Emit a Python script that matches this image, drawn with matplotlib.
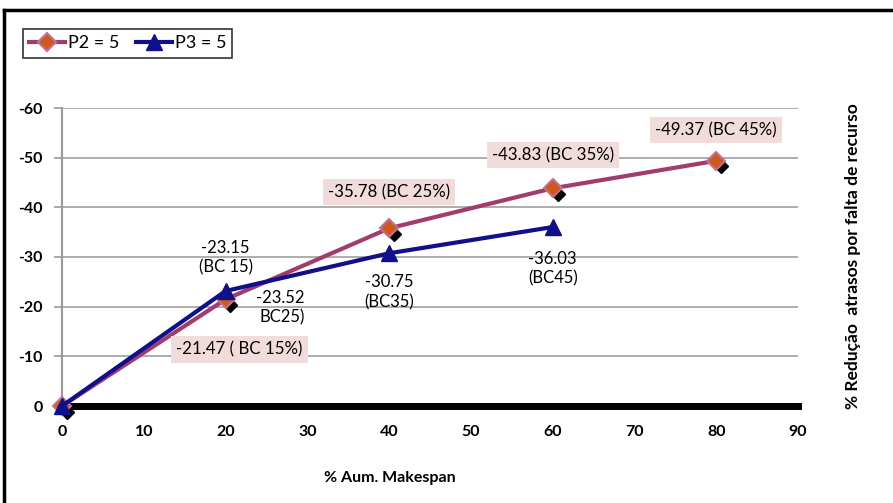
import matplotlib
matplotlib.use("Agg")
import matplotlib.pyplot as plt
import matplotlib.transforms as mtransforms
from matplotlib.lines import Line2D

plt.rcParams['font.family'] = ['Lato', 'DejaVu Sans']
plt.rcParams['axes.unicode_minus'] = False

# Data
x_p2 = [0, 20, 40, 60, 80]
y_p2 = [0, -21.47, -35.78, -43.83, -49.37]
bc_p2 = ["", "( BC 15%)", "(BC 25%)", "(BC 35%)", "(BC 45%)"]

x_p3 = [0, 20, 40, 60]
y_p3 = [0, -23.15, -30.75, -36.03]
bc_p3 = ["", "(BC 15)", "(BC35)", "(BC45)"]

extra_value = -23.52
extra_bc = "BC25)"

x_ticks = [0, 10, 20, 30, 40, 50, 60, 70, 80, 90]
y_ticks = [0, -10, -20, -30, -40, -50, -60]

c_p2_line = "#a03c6e"
c_p2_face = "#d0581a"
c_p2_edge = "#c07090"
c_p3 = "#10108a"
c_box = "#f2dcdb"

fig = plt.figure(figsize=(8.93, 5.03), dpi=100)
ax = fig.add_axes([62/893, 1 - 406/503, (798 - 62)/893, (406 - 108)/503])

ax.set_xlim(0, 90)
ax.set_ylim(0, -60)
ax.set_xticks(x_ticks)
ax.set_yticks(y_ticks)
ax.tick_params(axis='x', length=0, pad=14, labelsize=11.5)
ax.tick_params(axis='y', length=6, width=1.2, color="#999999", direction='out', pad=8, labelsize=11.5)
for lab in ax.get_xticklabels() + ax.get_yticklabels():
    lab.set_fontweight('bold')

for yt in y_ticks[1:]:
    ax.axhline(yt, color="#a0a0a0", lw=1.2, zorder=1)
for s in ['top', 'right', 'bottom']:
    ax.spines[s].set_visible(False)
ax.spines['left'].set_color("#999999")
ax.spines['left'].set_linewidth(1.5)
ax.axhline(0, color="black", lw=5, zorder=2, clip_on=False)

# Shadow markers under the P2 diamonds
shadow = mtransforms.offset_copy(ax.transData, fig=fig, x=3.5, y=-4.0, units='points')
ax.plot(x_p2, y_p2, linestyle='none', marker='D', ms=7, color='black',
        transform=shadow, zorder=3, clip_on=False)

ax.plot(x_p2, y_p2, color=c_p2_line, lw=3, marker='D', ms=9.5,
        mfc=c_p2_face, mec=c_p2_edge, mew=1.5, zorder=4, clip_on=False)
ax.plot(x_p3, y_p3, color=c_p3, lw=3, marker='^', ms=12,
        mfc=c_p3, mec=c_p3, zorder=5, clip_on=False)

# Boxed labels for P2
p2_offsets = [None, (10, -36), (0, 26), (0, 24), (0, 22)]
for xv, yv, bc, off in zip(x_p2, y_p2, bc_p2, p2_offsets):
    if off is None:
        continue
    ax.annotate(f"{yv:.2f} {bc}", (xv, yv), xytext=off, textcoords='offset points',
                ha='center', va='center', fontsize=12.2, zorder=6,
                bbox=dict(boxstyle='square,pad=0.3', fc=c_box, ec='none'))

# Two-line labels for P3
p3_offsets = [None, (0, 24), (0, -28), (0, -30)]
for xv, yv, bc, off in zip(x_p3, y_p3, bc_p3, p3_offsets):
    if off is None:
        continue
    ax.annotate(f"{yv:.2f}\n{bc}", (xv, yv), xytext=off, textcoords='offset points',
                ha='center', va='center', fontsize=12, linespacing=1.3, zorder=6)

ax.annotate(f"{extra_value:.2f}\n{extra_bc}", (x_p2[1], y_p2[1]), xytext=(57, -6),
            textcoords='offset points', ha='right', va='center', fontsize=12,
            linespacing=1.3, zorder=6)

fig.text(390/893, 1 - 478/503, "% Aum. Makespan", ha='center', va='center',
         fontsize=11.5, fontweight='bold')
fig.text(853/893, 1 - 256/503, "% Redução  atrasos por falta de recurso", ha='center',
         va='center', rotation=90, fontsize=12.5, fontweight='bold')

# Legend
handles = [
    Line2D([], [], color=c_p2_line, lw=3, marker='D', ms=9, mfc=c_p2_face, mec=c_p2_edge, mew=1.5),
    Line2D([], [], color=c_p3, lw=3, marker='^', ms=12, mfc=c_p3, mec=c_p3),
]
leg = fig.legend(handles, ["P2 = 5", "P3 = 5"], loc='upper left',
                 bbox_to_anchor=(14/893, 1 - 20/503), ncol=2, frameon=True,
                 fancybox=False, edgecolor='black', fontsize=13, handlelength=2.0,
                 handletextpad=0.15, columnspacing=0.9, borderpad=0.35)
leg.get_frame().set_linewidth(1.2)

# Outer frame lines (top and left)
fig.add_artist(Line2D([4/893, 4/893], [0, 1 - 10/503], transform=fig.transFigure,
                      color='black', lw=2.5))
fig.add_artist(Line2D([4/893, 1], [1 - 10/503, 1 - 10/503], transform=fig.transFigure,
                      color='black', lw=2.5))

fig.savefig("out.png", dpi=100)
